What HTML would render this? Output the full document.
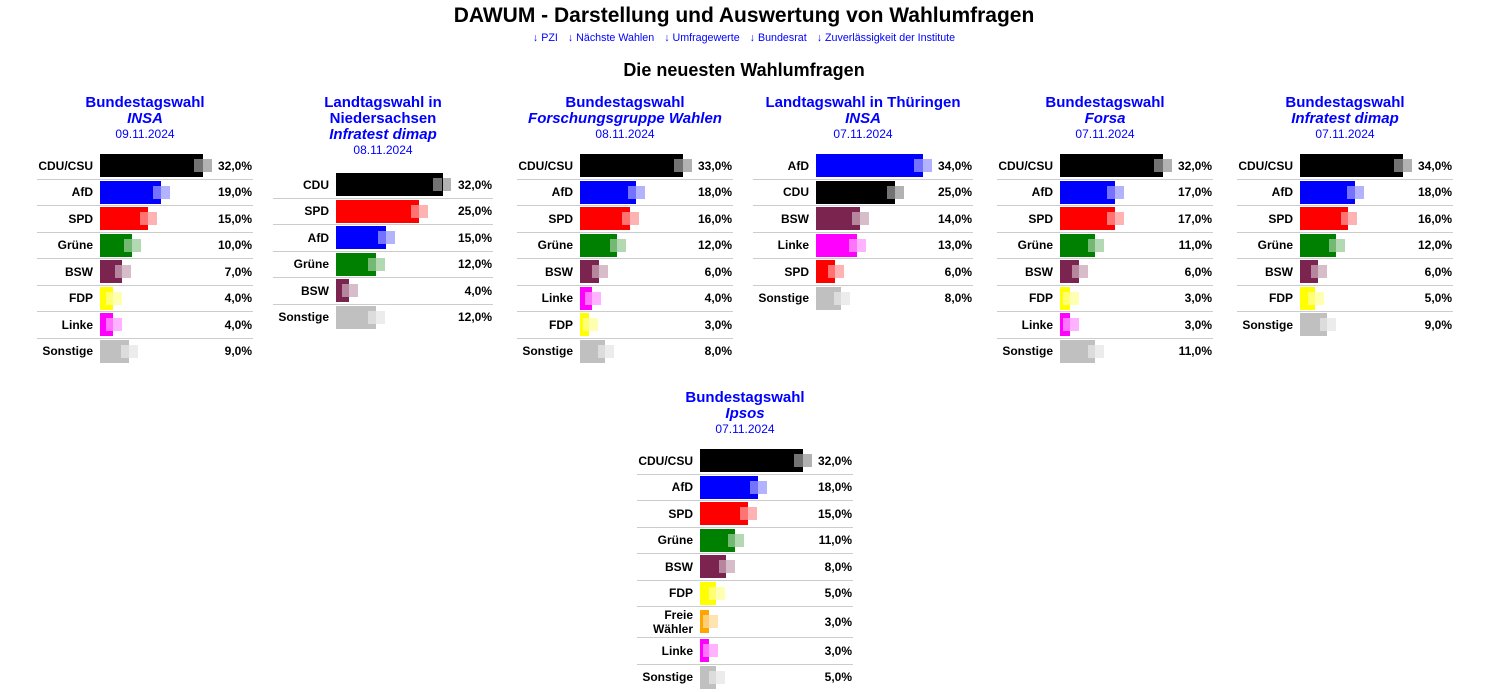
<!DOCTYPE html>
<html><head><meta charset="utf-8"><style>
body{margin:0;width:1488px;height:692px;background:#fff;font-family:"Liberation Sans",Arial,sans-serif;position:relative;overflow:hidden}
h1{position:absolute;top:4px;left:0;width:1488px;margin:0;text-align:center;font-size:21px;font-weight:bold}
.nav{position:absolute;top:32px;left:0;width:1488px;text-align:center;font-size:10.7px;color:#00f}
.nav span{margin:0 5px}
h2{position:absolute;top:60px;left:0;width:1488px;margin:0;text-align:center;font-size:18px;font-weight:bold}
.c{position:absolute;width:216px}
.t{text-align:center;color:#00f;font-size:15px;font-weight:bold;line-height:16px}
.t i{display:block}
.t .d{font-size:12px;font-weight:normal;line-height:15px}
.r{height:25.5px;border-top:1px solid #ccc;position:relative;font-size:12px;font-weight:bold}
.r:first-child{border-top:none}
.l{position:absolute;right:160px;top:0;height:100%;display:flex;align-items:center;text-align:right;line-height:14px}
.w .l{right:164px}
.w .b{left:63px}
.b{position:absolute;left:63px;top:1px;height:23px}
.b i{position:absolute;left:0;top:0;height:23px;background:currentColor}
.b em{position:absolute;top:5px;width:9px;height:13px;background:rgba(255,255,255,.45)}
.b s{position:absolute;top:5px;width:9px;height:13px;background:currentColor;opacity:.3;text-decoration:none}
.v{position:absolute;right:1px;top:0;height:100%;display:flex;align-items:center}
</style></head><body>
<h1>DAWUM - Darstellung und Auswertung von Wahlumfragen</h1>
<div class="nav"><span>↓ PZI</span><span>↓ Nächste Wahlen</span><span>↓ Umfragewerte</span><span>↓ Bundesrat</span><span>↓ Zuverlässigkeit der Institute</span></div>
<h2>Die neuesten Wahlumfragen</h2>

<div class="c" style="left:37px;top:95px">
<div class="t">Bundestagswahl<i>INSA</i><div class="d">09.11.2024</div></div>
<div style="margin-top:11px">
<div class="r"><span class="l">CDU/CSU</span><div class="b" style="color:#000"><i style="width:103px"></i><em style="left:94px"></em><s style="left:103px"></s></div><span class="v">32,0%</span></div>
<div class="r"><span class="l">AfD</span><div class="b" style="color:#00f"><i style="width:61px"></i><em style="left:53px"></em><s style="left:61px"></s></div><span class="v">19,0%</span></div>
<div class="r"><span class="l">SPD</span><div class="b" style="color:#f00"><i style="width:48px"></i><em style="left:40px"></em><s style="left:48px"></s></div><span class="v">15,0%</span></div>
<div class="r"><span class="l">Grüne</span><div class="b" style="color:#008000"><i style="width:32px"></i><em style="left:24px"></em><s style="left:32px"></s></div><span class="v">10,0%</span></div>
<div class="r"><span class="l">BSW</span><div class="b" style="color:#7b2450"><i style="width:22px"></i><em style="left:15px"></em><s style="left:22px"></s></div><span class="v">7,0%</span></div>
<div class="r"><span class="l">FDP</span><div class="b" style="color:#ff0"><i style="width:13px"></i><em style="left:6px"></em><s style="left:13px"></s></div><span class="v">4,0%</span></div>
<div class="r"><span class="l">Linke</span><div class="b" style="color:#f0f"><i style="width:13px"></i><em style="left:6px"></em><s style="left:13px"></s></div><span class="v">4,0%</span></div>
<div class="r"><span class="l">Sonstige</span><div class="b" style="color:#c0c0c0"><i style="width:29px"></i><em style="left:21px"></em><s style="left:29px"></s></div><span class="v">9,0%</span></div>
</div></div>

<div class="c w" style="left:273px;top:95px;width:220px">
<div class="t">Landtagswahl in<br>Niedersachsen<i>Infratest dimap</i><div class="d">08.11.2024</div></div>
<div style="margin-top:14px">
<div class="r"><span class="l">CDU</span><div class="b" style="color:#000"><i style="width:107px"></i><em style="left:97px"></em><s style="left:106px"></s></div><span class="v">32,0%</span></div>
<div class="r"><span class="l">SPD</span><div class="b" style="color:#f00"><i style="width:83px"></i><em style="left:75px"></em><s style="left:83px"></s></div><span class="v">25,0%</span></div>
<div class="r"><span class="l">AfD</span><div class="b" style="color:#00f"><i style="width:50px"></i><em style="left:42px"></em><s style="left:50px"></s></div><span class="v">15,0%</span></div>
<div class="r"><span class="l">Grüne</span><div class="b" style="color:#008000"><i style="width:40px"></i><em style="left:32px"></em><s style="left:40px"></s></div><span class="v">12,0%</span></div>
<div class="r"><span class="l">BSW</span><div class="b" style="color:#7b2450"><i style="width:13px"></i><em style="left:6px"></em><s style="left:13px"></s></div><span class="v">4,0%</span></div>
<div class="r"><span class="l">Sonstige</span><div class="b" style="color:#c0c0c0"><i style="width:40px"></i><em style="left:32px"></em><s style="left:40px"></s></div><span class="v">12,0%</span></div>
</div></div>

<div class="c" style="left:517px;top:95px">
<div class="t">Bundestagswahl<i>Forschungsgruppe Wahlen</i><div class="d">08.11.2024</div></div>
<div style="margin-top:11px">
<div class="r"><span class="l">CDU/CSU</span><div class="b" style="color:#000"><i style="width:103px"></i><em style="left:94px"></em><s style="left:103px"></s></div><span class="v">33,0%</span></div>
<div class="r"><span class="l">AfD</span><div class="b" style="color:#00f"><i style="width:56px"></i><em style="left:48px"></em><s style="left:56px"></s></div><span class="v">18,0%</span></div>
<div class="r"><span class="l">SPD</span><div class="b" style="color:#f00"><i style="width:50px"></i><em style="left:42px"></em><s style="left:50px"></s></div><span class="v">16,0%</span></div>
<div class="r"><span class="l">Grüne</span><div class="b" style="color:#008000"><i style="width:37px"></i><em style="left:30px"></em><s style="left:37px"></s></div><span class="v">12,0%</span></div>
<div class="r"><span class="l">BSW</span><div class="b" style="color:#7b2450"><i style="width:19px"></i><em style="left:12px"></em><s style="left:19px"></s></div><span class="v">6,0%</span></div>
<div class="r"><span class="l">Linke</span><div class="b" style="color:#f0f"><i style="width:12px"></i><em style="left:5px"></em><s style="left:12px"></s></div><span class="v">4,0%</span></div>
<div class="r"><span class="l">FDP</span><div class="b" style="color:#ff0"><i style="width:9px"></i><em style="left:3px"></em><s style="left:9px"></s></div><span class="v">3,0%</span></div>
<div class="r"><span class="l">Sonstige</span><div class="b" style="color:#c0c0c0"><i style="width:25px"></i><em style="left:18px"></em><s style="left:25px"></s></div><span class="v">8,0%</span></div>
</div></div>

<div class="c w" style="left:753px;top:95px;width:220px">
<div class="t">Landtagswahl in Thüringen<i>INSA</i><div class="d">07.11.2024</div></div>
<div style="margin-top:11px">
<div class="r"><span class="l">AfD</span><div class="b" style="color:#00f"><i style="width:107px"></i><em style="left:98px"></em><s style="left:107px"></s></div><span class="v">34,0%</span></div>
<div class="r"><span class="l">CDU</span><div class="b" style="color:#000"><i style="width:79px"></i><em style="left:71px"></em><s style="left:79px"></s></div><span class="v">25,0%</span></div>
<div class="r"><span class="l">BSW</span><div class="b" style="color:#7b2450"><i style="width:44px"></i><em style="left:36px"></em><s style="left:44px"></s></div><span class="v">14,0%</span></div>
<div class="r"><span class="l">Linke</span><div class="b" style="color:#f0f"><i style="width:41px"></i><em style="left:33px"></em><s style="left:41px"></s></div><span class="v">13,0%</span></div>
<div class="r"><span class="l">SPD</span><div class="b" style="color:#f00"><i style="width:19px"></i><em style="left:12px"></em><s style="left:19px"></s></div><span class="v">6,0%</span></div>
<div class="r"><span class="l">Sonstige</span><div class="b" style="color:#c0c0c0"><i style="width:25px"></i><em style="left:18px"></em><s style="left:25px"></s></div><span class="v">8,0%</span></div>
</div></div>

<div class="c" style="left:997px;top:95px">
<div class="t">Bundestagswahl<i>Forsa</i><div class="d">07.11.2024</div></div>
<div style="margin-top:11px">
<div class="r"><span class="l">CDU/CSU</span><div class="b" style="color:#000"><i style="width:103px"></i><em style="left:94px"></em><s style="left:103px"></s></div><span class="v">32,0%</span></div>
<div class="r"><span class="l">AfD</span><div class="b" style="color:#00f"><i style="width:55px"></i><em style="left:47px"></em><s style="left:55px"></s></div><span class="v">17,0%</span></div>
<div class="r"><span class="l">SPD</span><div class="b" style="color:#f00"><i style="width:55px"></i><em style="left:47px"></em><s style="left:55px"></s></div><span class="v">17,0%</span></div>
<div class="r"><span class="l">Grüne</span><div class="b" style="color:#008000"><i style="width:35px"></i><em style="left:28px"></em><s style="left:35px"></s></div><span class="v">11,0%</span></div>
<div class="r"><span class="l">BSW</span><div class="b" style="color:#7b2450"><i style="width:19px"></i><em style="left:12px"></em><s style="left:19px"></s></div><span class="v">6,0%</span></div>
<div class="r"><span class="l">FDP</span><div class="b" style="color:#ff0"><i style="width:10px"></i><em style="left:3px"></em><s style="left:10px"></s></div><span class="v">3,0%</span></div>
<div class="r"><span class="l">Linke</span><div class="b" style="color:#f0f"><i style="width:10px"></i><em style="left:3px"></em><s style="left:10px"></s></div><span class="v">3,0%</span></div>
<div class="r"><span class="l">Sonstige</span><div class="b" style="color:#c0c0c0"><i style="width:35px"></i><em style="left:28px"></em><s style="left:35px"></s></div><span class="v">11,0%</span></div>
</div></div>

<div class="c" style="left:1237px;top:95px">
<div class="t">Bundestagswahl<i>Infratest dimap</i><div class="d">07.11.2024</div></div>
<div style="margin-top:11px">
<div class="r"><span class="l">CDU/CSU</span><div class="b" style="color:#000"><i style="width:103px"></i><em style="left:94px"></em><s style="left:103px"></s></div><span class="v">34,0%</span></div>
<div class="r"><span class="l">AfD</span><div class="b" style="color:#00f"><i style="width:55px"></i><em style="left:47px"></em><s style="left:55px"></s></div><span class="v">18,0%</span></div>
<div class="r"><span class="l">SPD</span><div class="b" style="color:#f00"><i style="width:48px"></i><em style="left:41px"></em><s style="left:48px"></s></div><span class="v">16,0%</span></div>
<div class="r"><span class="l">Grüne</span><div class="b" style="color:#008000"><i style="width:36px"></i><em style="left:29px"></em><s style="left:36px"></s></div><span class="v">12,0%</span></div>
<div class="r"><span class="l">BSW</span><div class="b" style="color:#7b2450"><i style="width:18px"></i><em style="left:11px"></em><s style="left:18px"></s></div><span class="v">6,0%</span></div>
<div class="r"><span class="l">FDP</span><div class="b" style="color:#ff0"><i style="width:15px"></i><em style="left:8px"></em><s style="left:15px"></s></div><span class="v">5,0%</span></div>
<div class="r"><span class="l">Sonstige</span><div class="b" style="color:#c0c0c0"><i style="width:27px"></i><em style="left:20px"></em><s style="left:27px"></s></div><span class="v">9,0%</span></div>
</div></div>

<div class="c" style="left:637px;top:390px">
<div class="t">Bundestagswahl<i>Ipsos</i><div class="d">07.11.2024</div></div>
<div style="margin-top:11px">
<div class="r"><span class="l">CDU/CSU</span><div class="b" style="color:#000"><i style="width:103px"></i><em style="left:94px"></em><s style="left:103px"></s></div><span class="v">32,0%</span></div>
<div class="r"><span class="l">AfD</span><div class="b" style="color:#00f"><i style="width:58px"></i><em style="left:50px"></em><s style="left:58px"></s></div><span class="v">18,0%</span></div>
<div class="r"><span class="l">SPD</span><div class="b" style="color:#f00"><i style="width:48px"></i><em style="left:40px"></em><s style="left:48px"></s></div><span class="v">15,0%</span></div>
<div class="r"><span class="l">Grüne</span><div class="b" style="color:#008000"><i style="width:35px"></i><em style="left:28px"></em><s style="left:35px"></s></div><span class="v">11,0%</span></div>
<div class="r"><span class="l">BSW</span><div class="b" style="color:#7b2450"><i style="width:26px"></i><em style="left:19px"></em><s style="left:26px"></s></div><span class="v">8,0%</span></div>
<div class="r"><span class="l">FDP</span><div class="b" style="color:#ff0"><i style="width:16px"></i><em style="left:9px"></em><s style="left:16px"></s></div><span class="v">5,0%</span></div>
<div class="r" style="height:30px"><span class="l">Freie<br>Wähler</span><div class="b" style="color:#ffa500;top:3px"><i style="width:9px"></i><em style="left:3px"></em><s style="left:9px"></s></div><span class="v">3,0%</span></div>
<div class="r"><span class="l">Linke</span><div class="b" style="color:#f0f"><i style="width:9px"></i><em style="left:3px"></em><s style="left:9px"></s></div><span class="v">3,0%</span></div>
<div class="r"><span class="l">Sonstige</span><div class="b" style="color:#c0c0c0"><i style="width:16px"></i><em style="left:9px"></em><s style="left:16px"></s></div><span class="v">5,0%</span></div>
</div></div>
</body></html>
